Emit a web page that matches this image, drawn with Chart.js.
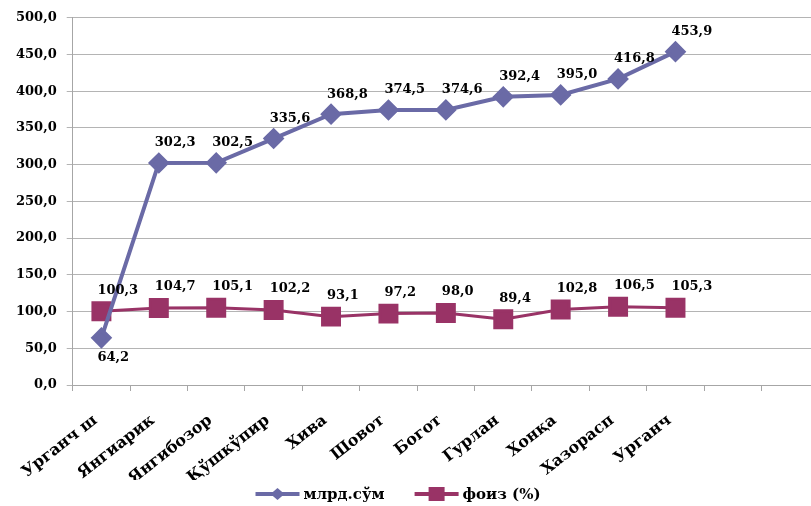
<!DOCTYPE html>
<html>
<head>
<meta charset="utf-8">
<script src="https://cdn.jsdelivr.net/npm/chart.js@4"></script>
<style>
    html, body { margin: 0; padding: 0; background: #fff; }
    #wrap { width: 811px; height: 506px; overflow: hidden; }
</style>
</head>
<body>
<div id="wrap"><canvas id="chart" width="834" height="506"></canvas></div>
<script>
// districts; the last two categories are empty in the original
const categories = ['Урганч ш', 'Янгиарик', 'Янгибозор', 'Қўшкўпир', 'Хива', 'Шовот',
    'Богот', 'Гурлан', 'Хонқа', 'Хазорасп', 'Урганч', '', ''];
const mlrdSum = [64.2, 302.3, 302.5, 335.6, 368.8, 374.5, 374.6, 392.4, 395.0, 416.8, 453.9];
const foiz = [100.3, 104.7, 105.1, 102.2, 93.1, 97.2, 98.0, 89.4, 102.8, 106.5, 105.3];
const seriesNames = ['млрд.сўм', 'фоиз (%)'];
const yTicks = [0, 50, 100, 150, 200, 250, 300, 350, 400, 450, 500];

const BLUE = '#6A6AA6';
const PINK = '#993366';
const FONT = '"DejaVu Serif", serif';
const fmt = v => v.toFixed(1).replace('.', ',');

// value labels next to each point
const valueLabels = {
    id: 'valueLabels',
    afterDatasetsDraw(chart) {
        const ctx = chart.ctx;
        ctx.save();
        ctx.font = 'bold 13px ' + FONT;
        ctx.fillStyle = '#000';
        ctx.textAlign = 'left';
        ctx.textBaseline = 'middle';
        chart.data.datasets.forEach((ds, i) => {
            chart.getDatasetMeta(i).data.forEach((pt, j) => {
                let dy = i === 0 ? -20 : -21;
                if (i === 0 && j === 0) dy = 20;
                ctx.fillText(fmt(ds.data[j]), pt.x - 4, pt.y + dy);
            });
        });
        ctx.restore();
    }
};

// excel style legend: line with marker, centred under the plot
const lineLegend = {
    id: 'lineLegend',
    afterDraw(chart) {
        const ctx = chart.ctx;
        const lineW = 44, gapText = 4, gapItem = 30;
        ctx.save();
        ctx.font = 'bold 15px ' + FONT;
        ctx.textBaseline = 'middle';
        const widths = chart.data.datasets.map(ds => lineW + gapText + ctx.measureText(ds.label).width);
        const total = widths.reduce((a, b) => a + b, 0) + gapItem * (widths.length - 1);
        let x = 398 - total / 2;
        const y = 494;
        chart.data.datasets.forEach((ds, i) => {
            ctx.strokeStyle = ds.borderColor;
            ctx.lineWidth = 4;
            ctx.beginPath(); ctx.moveTo(x, y); ctx.lineTo(x + lineW, y); ctx.stroke();
            ctx.fillStyle = ds.borderColor;
            const cx = x + lineW / 2;
            if (ds.pointStyle === 'rect') {
                ctx.fillRect(cx - 8, y - 7, 16, 14);
            } else {
                ctx.beginPath();
                ctx.moveTo(cx, y - 6); ctx.lineTo(cx + 7, y); ctx.lineTo(cx, y + 6); ctx.lineTo(cx - 7, y);
                ctx.closePath(); ctx.fill();
            }
            ctx.fillStyle = '#000';
            ctx.fillText(ds.label, x + lineW + gapText, y + 1);
            x += widths[i] + gapItem;
        });
        ctx.restore();
    }
};

Chart.defaults.font.family = FONT;
Chart.defaults.font.weight = 'bold';
Chart.defaults.color = '#000';

new Chart(document.getElementById('chart'), {
    type: 'line',
    data: {
        labels: categories,
        datasets: [{
            label: seriesNames[0],
            data: mlrdSum,
            borderColor: BLUE,
            backgroundColor: BLUE,
            borderWidth: 4,
            pointStyle: 'rectRot',
            pointRadius: 8,
            pointHoverRadius: 8,
            tension: 0
        }, {
            label: seriesNames[1],
            data: foiz,
            borderColor: PINK,
            backgroundColor: PINK,
            borderWidth: 3,
            pointStyle: 'rect',
            pointRadius: 12,
            pointHoverRadius: 12,
            tension: 0
        }]
    },
    options: {
        responsive: false,
        animation: false,
        layout: { padding: { left: 6, top: 17, right: 0, bottom: 26 } },
        scales: {
            x: {
                offset: true,
                afterFit: axis => { axis.height = 95; },
                grid: { offset: true, drawOnChartArea: false, color: '#a6a6a6', tickLength: 6 },
                border: { color: '#a6a6a6' },
                ticks: {
                    font: { size: 16 }, minRotation: 38, maxRotation: 38,
                    autoSkip: false, padding: 20, labelOffset: -6
                }
            },
            y: {
                min: 0, max: 500,
                afterBuildTicks: axis => { axis.ticks = yTicks.map(v => ({ value: v })); },
                grid: { color: '#b4b4b4', tickLength: 6 },
                border: { color: '#a6a6a6' },
                ticks: { font: { size: 13 }, padding: 10, callback: v => fmt(v) }
            }
        },
        plugins: {
            tooltip: { enabled: false },
            legend: { display: false }
        }
    },
    plugins: [valueLabels, lineLegend]
});
</script>
</body>
</html>
